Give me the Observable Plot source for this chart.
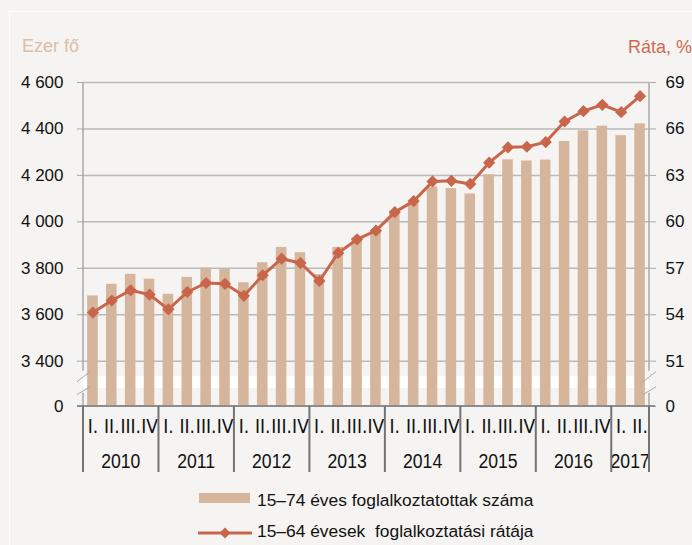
<!DOCTYPE html>
<html>
<head>
<meta charset="utf-8">
<script src="https://cdn.jsdelivr.net/npm/d3@7"></script>
<script src="https://cdn.jsdelivr.net/npm/@observablehq/plot@0.6"></script>
<style>
html,body{margin:0;padding:0;background:#f5f4f2;}
#wrap{position:relative;width:692px;height:545px;background:#f5f4f2;overflow:hidden;font-family:"Liberation Sans",Arial,sans-serif;color:#111;}
#frame{position:absolute;left:9px;top:11px;width:700px;height:600px;border-left:1px solid #fdfdfc;border-top:1px solid #fdfdfc;}
#chart{position:absolute;left:0;top:0;}
.ttl{position:absolute;font-size:18px;white-space:nowrap;}
#tl{left:22px;top:36px;color:#dcbea8;}
#tr{left:628px;top:37px;color:#cf6a50;}
#legend{position:absolute;left:0;top:480px;width:692px;height:65px;}
</style>
</head>
<body>
<div id="wrap">
  <div id="frame"></div>
  <div id="chart"></div>
  <div class="ttl" id="tl">Ezer fő</div>
  <div class="ttl" id="tr">Ráta, %</div>
  <div id="legend"></div>
</div>
<script>
// ---- data ----
const years = [2010, 2011, 2012, 2013, 2014, 2015, 2016, 2017];
const quarterNames = ["I.", "II.", "III.", "IV"];
const quartersPerYear = [4, 4, 4, 4, 4, 4, 4, 2];
const employed = [3681, 3731, 3774, 3753, 3688, 3761, 3801, 3796, 3738, 3824, 3890, 3867,
  3773, 3890, 3930, 3963, 4042, 4078, 4150, 4143, 4120, 4203, 4267, 4262,
  4266, 4346, 4392, 4412, 4371, 4422];
const rate = [54.14, 54.92, 55.58, 55.30, 54.35, 55.47, 56.05, 56.00, 55.22, 56.55, 57.62, 57.34,
  56.18, 57.99, 58.87, 59.43, 60.63, 61.34, 62.61, 62.65, 62.45, 63.82, 64.81, 64.85,
  65.15, 66.48, 67.15, 67.56, 67.08, 68.12];
const leftTicks = [0, 3400, 3600, 3800, 4000, 4200, 4400, 4600];
const rightTicks = [0, 51, 54, 57, 60, 63, 66, 69];
const seriesNames = ["15–74 éves foglalkoztatottak száma", "15–64 évesek  foglalkoztatási rátája"];

// ---- build table ----
const table = [];
years.forEach((yr, yi) => {
  for (let q = 0; q < quartersPerYear[yi]; q++) {
    const i = table.length;
    table.push({key: yr + "-" + q, year: yr, quarter: quarterNames[q], employed: employed[i], rate: rate[i]});
  }
});
const toLeft = r => r === 0 ? 0 : 3400 + (r - 51) * 200 / 3;
const fromLeft = v => v === 0 ? 0 : Math.round(51 + (v - 3400) * 3 / 200);
const fmtThousands = d => String(d).replace(/\B(?=(\d{3})+(?!\d))/g, " ");

const BAR = "#d5b59b", LINE = "#c9654a";
const W = 692, H = 480, mL = 83, mR = 43, mT = 82, mB = 74;
const y0 = H - mB;
const narrow = "'Liberation Sans Narrow','Arial Narrow','DejaVu Sans Condensed',sans-serif";

const plot = Plot.plot({
  width: W, height: H,
  marginLeft: mL, marginRight: mR, marginTop: mT, marginBottom: mB,
  style: {background: "transparent", fontFamily: "'Liberation Sans',Arial,sans-serif", fontSize: "17px", color: "#111", overflow: "visible"},
  x: {type: "band", domain: table.map(d => d.key), paddingInner: 0.44, paddingOuter: 0.22, round: false, axis: null},
  y: {type: "linear", domain: [0, 3400, 4600], range: [y0, y0 - 45.3, mT], axis: null},
  marks: [
    Plot.ruleY(leftTicks.filter(d => d > 0), {stroke: "#b9b9b9", strokeWidth: 1.5}),
    Plot.barY(table, {x: "key", y: "employed", fill: BAR}),
    Plot.line(table, {x: "key", y: d => toLeft(d.rate), stroke: LINE, strokeWidth: 3}),
    Plot.dot(table, {x: "key", y: d => toLeft(d.rate), symbol: "diamond2", r: 5.5, fill: LINE, stroke: null}),
    Plot.axisY(leftTicks, {anchor: "left", label: null, tickSize: 6, tickPadding: 14, stroke: "#a9a9a9", fill: "#111", tickFormat: fmtThousands, fontSize: 17}),
    Plot.axisY(rightTicks.map(toLeft), {anchor: "right", label: null, tickSize: 6, tickPadding: 10, stroke: "#a9a9a9", fill: "#111", tickFormat: fromLeft, fontSize: 17}),
    Plot.text(table, {x: "key", y: () => 0, text: "quarter", dy: 20, lineAnchor: "middle", fontSize: 19, fontFamily: narrow, fill: "#111"})
  ]
});
document.getElementById("chart").appendChild(plot);

// ---- decorations with the plot's scales ----
const svg = d3.select(plot);
const xs = plot.scale("x"), ys = plot.scale("y");
const step = xs.step, bw = xs.bandwidth;
const gap = (step - bw) / 2;
const xLeft = mL, xRight = W - mR;
const y3400 = ys.apply(3400);

// white break band behind bars
svg.insert("rect", "g")
  .attr("x", xLeft).attr("width", xRight - xLeft)
  .attr("y", ys.apply(2250)).attr("height", ys.apply(1350) - ys.apply(2250))
  .attr("fill", "#ffffff");

const deco = svg.append("g");
// vertical axis lines (interrupted by the break)
[xLeft, xRight].forEach(x => {
  deco.append("line").attr("x1", x).attr("x2", x).attr("y1", mT).attr("y2", y3400 + 10).attr("stroke", "#a9a9a9").attr("stroke-width", 1.5);
  deco.append("line").attr("x1", x).attr("x2", x).attr("y1", y3400 + 32).attr("y2", y0).attr("stroke", "#a9a9a9").attr("stroke-width", 1.5);
  // break slashes
  deco.append("line").attr("x1", x - 6).attr("y1", y3400 + 21).attr("x2", x + 7).attr("y2", y3400 + 11).attr("stroke", "#a9a9a9").attr("stroke-width", 1);
  deco.append("line").attr("x1", x - 6).attr("y1", y3400 + 34).attr("x2", x + 7).attr("y2", y3400 + 26).attr("stroke", "#a9a9a9").attr("stroke-width", 1);
});
// zero baseline
deco.append("line").attr("x1", xLeft - 6).attr("x2", xRight + 6).attr("y1", y0).attr("y2", y0).attr("stroke", "#8c8c8c").attr("stroke-width", 2);
// year group separators and year labels (horizontally condensed)
const groups = d3.groups(table, d => d.year);
const bounds = [];
groups.forEach(([yr, rows]) => {
  const x0 = xs.apply(rows[0].key) - gap;
  const x1 = xs.apply(rows[rows.length - 1].key) + bw + gap;
  bounds.push(x0);
  deco.append("text").attr("transform", `translate(${(x0 + x1) / 2},${y0 + 56}) scale(0.84,1)`).attr("text-anchor", "middle")
    .attr("dominant-baseline", "middle").attr("font-size", 21).attr("fill", "#111").text(yr);
});
bounds.push(xRight);
bounds.forEach(x => {
  deco.append("line").attr("x1", x).attr("x2", x).attr("y1", y0).attr("y2", y0 + 66).attr("stroke", "#737373").attr("stroke-width", 2);
});

// ---- legend ----
const lg = d3.select("#legend").append("svg").attr("width", 692).attr("height", 65);
lg.append("rect").attr("x", 199).attr("y", 13).attr("width", 51).attr("height", 10).attr("fill", BAR);
lg.append("text").attr("x", 257).attr("y", 21).attr("dominant-baseline", "middle").attr("font-size", 17.4).attr("fill", "#111").text(seriesNames[0]);
lg.append("line").attr("x1", 198).attr("x2", 252).attr("y1", 53).attr("y2", 53).attr("stroke", LINE).attr("stroke-width", 3);
lg.append("path").attr("d", d3.symbol(d3.symbolSquare, 60)()).attr("transform", "translate(225,53) rotate(45)").attr("fill", LINE);
lg.append("text").attr("x", 257).attr("y", 52).attr("dominant-baseline", "middle").attr("font-size", 17.4).attr("fill", "#111").style("white-space", "pre").text(seriesNames[1]);
</script>
</body>
</html>
